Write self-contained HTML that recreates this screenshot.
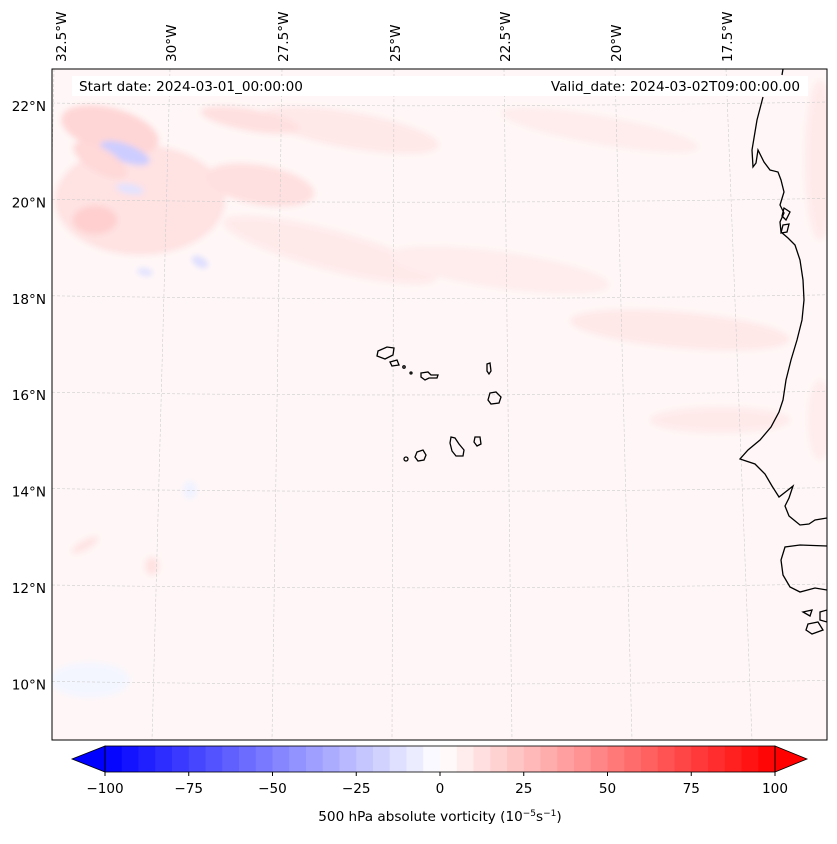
<!DOCTYPE html>
<html><head><meta charset="utf-8"><style>
body{margin:0;background:#fff;font-family:"Liberation Sans","DejaVu Sans",sans-serif;}
svg text{font-family:"DejaVu Sans","Liberation Sans",sans-serif;}
</style></head><body>
<svg width="837" height="839">
<defs>
<clipPath id="mc"><rect x="52" y="69" width="775" height="671"/></clipPath>
<filter id="bl"><feGaussianBlur stdDeviation="3"/></filter>
</defs>
<g clip-path="url(#mc)">
<rect x="52" y="69" width="775" height="671" fill="#fff7f7"/>
<g id="blobs" filter="url(#bl)"></g>
<g id="grid" stroke="#ccc" stroke-width="0.6" stroke-dasharray="3,2" fill="none"></g>
<g fill="none" stroke="#000" stroke-width="1.3">
<polyline points="783,69 782,75"/>
<polyline points="763,97 757,120 752,150 753,167 756,163 758,150 764,162 770,170 778,172 781,180 784,192 780,205 784,213 780,222 781,232 788,238 795,245 800,260 803,280 804,300 802,320 797,340 791,360 786,380 783,400 779,412 771,427 760,440 748,450 740,459 746,461 755,464 765,474 772,486 779,497 788,490 793,486 789,498 785,506 789,516 800,525 809,524 815,520 827,518"/>
<polyline points="827,546 800,545 785,547 781,560 783,575 790,587 800,592 815,588 827,590"/>
<polygon points="803,612 812,610 810,616"/>
<polygon points="808,624 818,622 823,630 812,634 806,630"/>
<polygon points="820,612 827,610 827,622 820,620"/>
<polygon points="784,208 790,212 786,220 782,216"/>
<polygon points="783,225 789,224 787,232 781,233"/>
</g>
<g fill="none" stroke="#000" stroke-width="1.3">
<polygon points="378,351 387,347 394,348 393,355 385,359 377,356"/>
<polygon points="390,362 397,360 399,365 392,366"/>
<circle cx="404" cy="367" r="1.2"/><circle cx="411" cy="373" r="1"/>
<polygon points="421,373 428,372 431,375 438,375 437,378 429,378 425,380 421,377"/>
<polygon points="487,364 490,363 491,371 489,374 487,371"/>
<polygon points="490,393 496,392 501,397 499,403 491,404 488,400"/>
<polygon points="451,437 455,438 459,444 464,450 463,456 456,456 452,451 450,443"/>
<polygon points="475,437 480,437 481,444 477,446 474,442"/>
<polygon points="417,452 423,450 426,455 424,460 418,461 415,457"/>
<circle cx="406" cy="459" r="2"/>
</g>
</g>
<rect x="52" y="69" width="775" height="671" fill="none" stroke="#000" stroke-width="1"/>
<rect x="72" y="76" width="736" height="20" fill="#fff"/>
<text x="79" y="91" font-size="13.6">Start date: 2024-03-01_00:00:00</text>
<text x="800" y="91" font-size="13.6" text-anchor="end">Valid_date: 2024-03-02T09:00:00.00</text>
<g id="lonlab" font-size="13.6"></g>
<g id="latlab" font-size="13.6"></g>
<g id="cbar"></g>
<text x="440" y="821" font-size="13.6" text-anchor="middle">500 hPa absolute vorticity (10<tspan font-size="9" dy="-5">−5</tspan><tspan dy="5">s</tspan><tspan font-size="9" dy="-5">−1</tspan><tspan dy="5">)</tspan></text>
</svg>
<script>
const NS="http://www.w3.org/2000/svg";
const cbTicks=[-100,-75,-50,-25,0,25,50,75,100];
const cbLevels=[];for(let v=-100;v<100;v+=5)cbLevels.push(v);
const lonLabels=["32.5°W","30°W","27.5°W","25°W","22.5°W","20°W","17.5°W"];
const lonTop=[62,172,284,396,506,617,728];
const latLabels=["22°N","20°N","18°N","16°N","14°N","12°N","10°N"];
const latVals=[22,20,18,16,14,12,10];
function mk(t,a,p){const e=document.createElementNS(NS,t);for(const k in a)e.setAttribute(k,a[k]);(p||document.querySelector('svg')).appendChild(e);return e;}
const latY=v=>106+(22-v)*48.2;
const cx=v=>440+(v)*3.35, cy0=746, cy1=772;
function col(v){const m=v+2.5;const t=Math.min(1,Math.abs(m)/100);const c=Math.round(255*(1-t));return m<0?`rgb(${c},${c},255)`:`rgb(255,${c},${c})`;}
const cb=document.getElementById('cbar');
cbLevels.forEach(v=>{const r=mk('rect',{x:cx(v),y:cy0,width:3.35*5+0.5,height:cy1-cy0,fill:col(v)},cb);

});
mk('polygon',{points:`${cx(-100)},${cy0} 72,759 ${cx(-100)},${cy1}`,fill:'#0000ff',stroke:'#000','stroke-width':0.8},cb);
mk('polygon',{points:`${cx(100)},${cy0} 807,759 ${cx(100)},${cy1}`,fill:'#ff0000',stroke:'#000','stroke-width':0.8},cb);
mk('rect',{x:cx(-100),y:cy0,width:cx(100)-cx(-100),height:cy1-cy0,fill:'none',stroke:'#000','stroke-width':0.8},cb);
cbTicks.forEach(v=>{mk('line',{x1:cx(v),x2:cx(v),y1:cy1,y2:cy1+4,stroke:'#000'},cb);
const t=mk('text',{x:cx(v),y:793,'font-size':13.6,'text-anchor':'middle'},cb);t.textContent=String(v).replace('-','−');

});
const g=document.getElementById('grid');
const lonBot=[40,152,272,392,512,632,752];
lonTop.forEach((x,i)=>{mk('line',{x1:x+(i==0?-8:-2),y1:69,x2:lonBot[i],y2:740},g);});
latVals.forEach(v=>{const y=latY(v);mk('path',{d:`M52,${y-3} Q440,${y+3} 827,${y-4}`},g);});
lonLabels.forEach((s,i)=>{const x=lonTop[i];const t=mk('text',{transform:`translate(${x+4},62) rotate(-90)`},document.getElementById('lonlab'));t.textContent=s;

});
latLabels.forEach((s,i)=>{const t=mk('text',{x:46,y:latY(latVals[i])+5,'text-anchor':'end'},document.getElementById('latlab'));t.textContent=s;

});
const blobs=[
[140,200,85,55,0,'#ffe2e2'],[110,130,50,22,15,'#ffd6d6'],[125,153,26,9,20,'#cdcdff'],[95,220,22,14,0,'#ffcfcf'],
[130,189,14,5,10,'#e2e2ff'],[200,262,9,5,30,'#dedeff'],[145,272,8,4,10,'#e2e2ff'],
[100,160,30,12,30,'#ffd8d8'],[240,180,14,7,0,'#ffd2d2'],[275,185,14,8,0,'#ffd2d2'],[260,185,55,20,10,'#ffe0e0'],
[330,250,110,20,15,'#ffeaea'],[350,130,90,18,10,'#ffe8e8'],[250,120,50,11,10,'#ffe0e0'],
[500,270,110,18,8,'#ffecec'],[680,330,110,18,5,'#ffe8e8'],[720,420,70,13,0,'#ffeaea'],
[600,130,100,14,10,'#ffecec'],[820,160,15,80,0,'#ffeaea'],[820,420,12,40,0,'#ffecec'],
[85,545,15,5,-30,'#ffe4e4'],[152,566,7,9,0,'#ffe2e2'],[190,490,7,9,0,'#f0f2ff'],[90,680,40,18,0,'#f4f6ff']];
const bg=document.getElementById('blobs');
blobs.forEach(b=>{mk('ellipse',{cx:b[0],cy:b[1],rx:b[2],ry:b[3],transform:`rotate(${b[4]} ${b[0]} ${b[1]})`,fill:b[5]},bg);});
</script>
</body></html>
